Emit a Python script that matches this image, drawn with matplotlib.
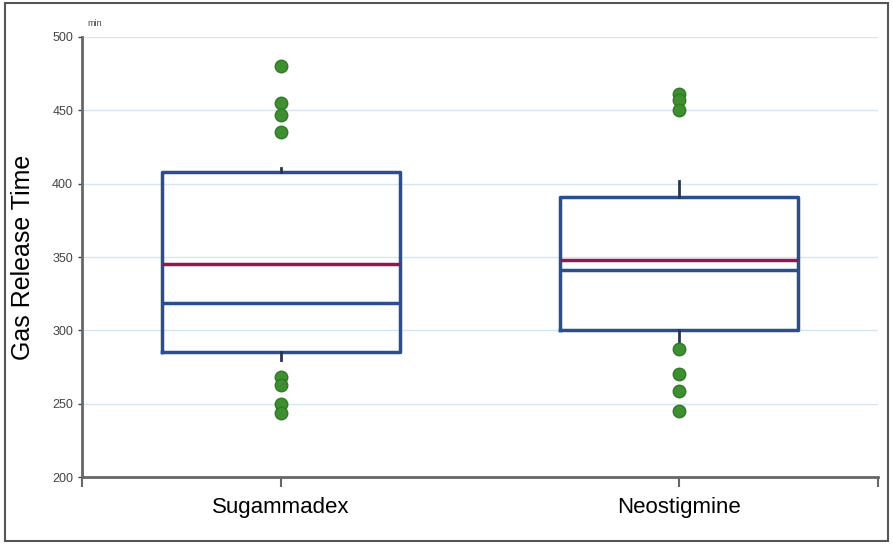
import matplotlib.pyplot as plt
from matplotlib.patches import Rectangle

plt.rcParams['font.family'] = ['Liberation Sans', 'DejaVu Sans']

# Dane (min)
groups = ['Sugammadex', 'Neostigmine']
q1 = [285, 300]
q3 = [408, 391]
medians = [319, 341]
means = [345, 348]
whisker_low = [280, 291]
whisker_high = [411, 402]
outliers = [
    [480, 455, 447, 435, 268, 263, 250, 244],
    [461, 457, 450, 287, 270, 259, 245],
]
y_ticks = [200, 250, 300, 350, 400, 450, 500]

stats = []
for i, g in enumerate(groups):
    stats.append({
        'label': g, 'q1': q1[i], 'q3': q3[i], 'med': medians[i], 'mean': means[i],
        'whislo': whisker_low[i], 'whishi': whisker_high[i], 'fliers': outliers[i],
    })

box_color = '#2b4f8c'
fig = plt.figure(figsize=(8.93, 5.44), dpi=100)
ax = fig.add_axes([0.092, 0.123, 0.891, 0.809])

ax.bxp(stats, positions=[0, 1], widths=0.6, showmeans=True, meanline=True,
       showcaps=False, zorder=3,
       boxprops=dict(color=box_color, linewidth=2.5),
       medianprops=dict(color=box_color, linewidth=2.5),
       meanprops=dict(color='#8c1a4f', linewidth=2.5, linestyle='-'),
       whiskerprops=dict(color='#2a3550', linewidth=2),
       flierprops=dict(marker='o', markersize=9, markerfacecolor='#3f8f30',
                       markeredgecolor='#2f7a25', linestyle='none'))

ax.set_xlim(-0.5, 1.5)
ax.set_ylim(200, 500)
ax.set_yticks(y_ticks)
ax.tick_params(axis='y', labelsize=9, colors='#444444', length=3, width=1)
ax.set_xticks([-0.5, 0, 1, 1.5])
ax.set_xticklabels(['', groups[0], groups[1], ''], fontsize=16)
ax.tick_params(axis='x', length=7, width=1.5, color='#666666', pad=7)
ax.grid(axis='y', color='#d5e6f2', linewidth=1, zorder=0)
ax.set_axisbelow(True)

for s in ['top', 'right']:
    ax.spines[s].set_visible(False)
for s in ['left', 'bottom']:
    ax.spines[s].set_color('#666666')
    ax.spines[s].set_linewidth(2)

ax.set_ylabel('Gas Release Time', fontsize=18, labelpad=12)
ax.text(-0.488, 506, 'min', fontsize=6.5, color='#444444', ha='left', va='bottom')

# ramka wokol calego rysunku
fig.patches.append(Rectangle((0.006, 0.006), 0.988, 0.988, transform=fig.transFigure,
                             fill=False, edgecolor='#555555', linewidth=1.5))

plt.savefig('out.png', dpi=100)
